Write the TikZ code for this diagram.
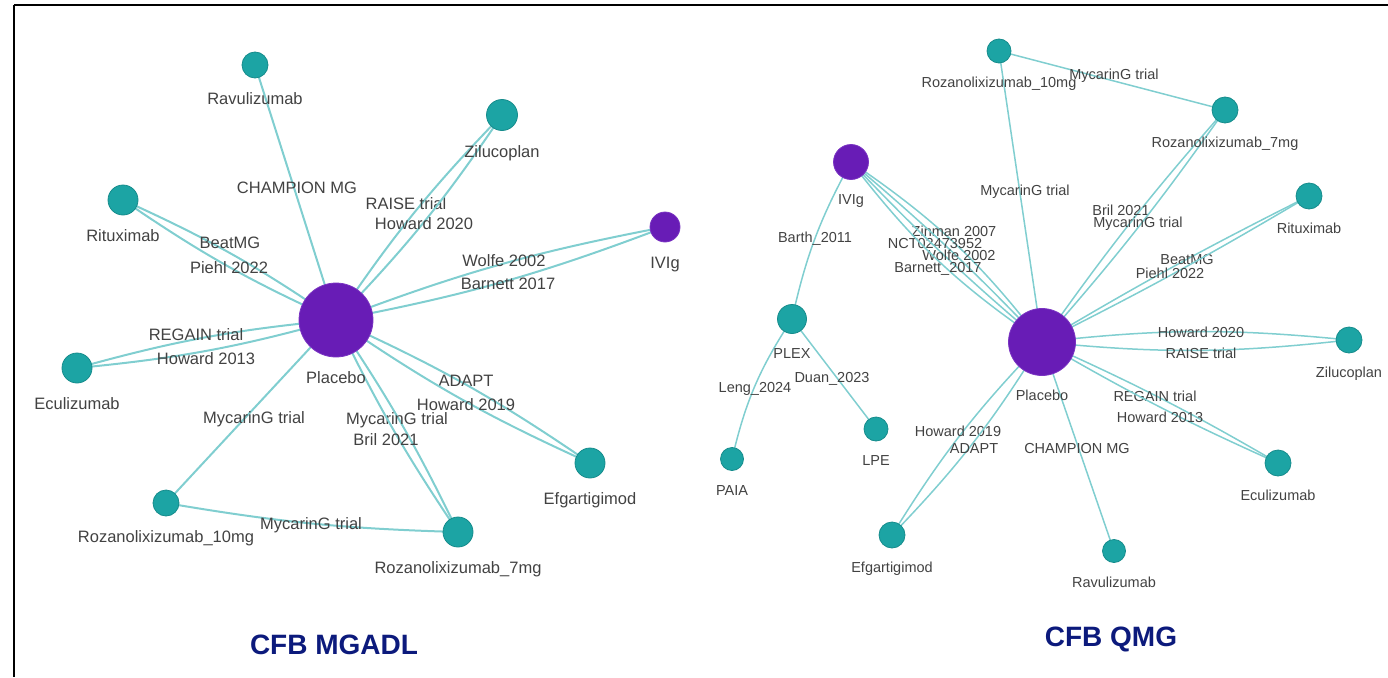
\documentclass[tikz,border=0pt]{standalone}
\usepackage{fontspec}
\setmainfont{Liberation Sans}
\usetikzlibrary{backgrounds}

\definecolor{trtfill}{RGB}{28,164,164}
\definecolor{trtdraw}{RGB}{22,140,140}
\definecolor{pbofill}{RGB}{104,28,182}
\definecolor{pbodraw}{RGB}{122,52,194}
\definecolor{linkc}{RGB}{128,206,208}
\definecolor{txtc}{RGB}{66,66,66}
\definecolor{navy}{RGB}{12,26,124}

\begin{document}
\begin{tikzpicture}[
  x=1pt, y=-1pt,
  tx/.style={circle, draw=trtdraw, fill=trtfill, line width=0.8pt, inner sep=0pt, minimum size=#1},
  pbo/.style={circle, draw=pbodraw, fill=pbofill, line width=0.8pt, inner sep=0pt, minimum size=#1},
  title/.style={font=\fontsize{28}{30}\selectfont\bfseries, text=navy},
  frame/.style={line width=2.4pt, black}
]
\useasboundingbox (0,0) rectangle (1388,677);
\draw[frame] (14,5) -- (1388,5);
\draw[frame] (14,5) -- (14,677);

\begin{scope}[
  label distance=14pt,
  every label/.style={font=\fontsize{16.5}{18}\selectfont, text=txtc, inner sep=0pt, text height=12pt, text depth=0pt},
  elab/.style={font=\fontsize{16.5}{18}\selectfont, text=txtc, inner sep=0pt, text height=12pt, text depth=0pt},
  link/.style={draw=linkc, line width=2pt}
]
\node[pbo=74pt, label=below:Placebo] (pA) at (336,320) {};
\node[tx=26pt, label=below:Ravulizumab] (ravA) at (255,65) {};
\node[tx=31pt, label=below:Zilucoplan] (zilA) at (502,115) {};
\node[tx=30pt, label=below:Rituximab] (ritA) at (123,200) {};
\node[pbo=30pt, label=below:IVIg] (ivigA) at (665,227) {};
\node[tx=30pt, label=below:Eculizumab] (eculA) at (77,368) {};
\node[tx=26pt, label=below:Rozanolixizumab\_10mg] (roztenA) at (166,503) {};
\node[tx=30pt, label=below:Rozanolixizumab\_7mg] (rozsevA) at (458,532) {};
\node[tx=30pt, label=below:Efgartigimod] (efgA) at (590,463) {};

\begin{scope}[on background layer]
\draw[link] (pA.center) -- (ravA.center) node[elab] at (297,187) {CHAMPION MG};
\draw[link] (pA.center) to[bend left=5] (zilA.center) node[elab] at (406,203) {RAISE trial};
\draw[link] (pA.center) to[bend right=5] (zilA.center) node[elab] at (424,223) {Howard 2020};
\draw[link] (pA.center) to[bend right=5] (ritA.center) node[elab] at (230,242) {BeatMG};
\draw[link] (pA.center) to[bend left=5] (ritA.center) node[elab] at (229,267) {Piehl 2022};
\draw[link] (pA.center) to[bend left=5] (ivigA.center) node[elab] at (504,260) {Wolfe 2002};
\draw[link] (pA.center) to[bend right=5] (ivigA.center) node[elab] at (508,283) {Barnett 2017};
\draw[link] (pA.center) to[bend right=5] (eculA.center) node[elab] at (196,334) {REGAIN trial};
\draw[link] (pA.center) to[bend left=5] (eculA.center) node[elab] at (206,358) {Howard 2013};
\draw[link] (pA.center) -- (roztenA.center) node[elab] at (254,417) {MycarinG trial};
\draw[link] (pA.center) to[bend left=4] (rozsevA.center) node[elab] at (397,418) {MycarinG trial};
\draw[link] (pA.center) to[bend right=4] (rozsevA.center) node[elab] at (386,439) {Bril 2021};
\draw[link] (pA.center) to[bend left=5] (efgA.center) node[elab] at (466,380) {ADAPT};
\draw[link] (pA.center) to[bend right=5] (efgA.center) node[elab] at (466,404) {Howard 2019};
\draw[link] (roztenA.center) to[bend right=4] (rozsevA.center) node[elab] at (311,523) {MycarinG trial};
\end{scope}
\end{scope}

\begin{scope}[
  label distance=13.5pt,
  every label/.style={font=\fontsize{14.5}{16}\selectfont, text=txtc, inner sep=0pt, text height=10.5pt, text depth=0pt},
  elab/.style={font=\fontsize{14.5}{16}\selectfont, text=txtc, inner sep=0pt, text height=10.5pt, text depth=0pt},
  link/.style={draw=linkc, line width=1.5pt}
]
\node[pbo=67pt, label=below:Placebo] (pB) at (1042,342) {};
\node[tx=24pt, label=below:Rozanolixizumab\_10mg] (roztenB) at (999,51) {};
\node[tx=26pt, label=below:Rozanolixizumab\_7mg] (rozsevB) at (1225,110) {};
\node[pbo=35pt, label=below:IVIg] (ivigB) at (851,162) {};
\node[tx=26pt, label=below:Rituximab] (ritB) at (1309,196) {};
\node[tx=29pt, label=below:PLEX] (plex) at (792,319) {};
\node[tx=26pt, label=below:Zilucoplan] (zilB) at (1349,340) {};
\node[tx=24pt, label=below:LPE] (lpe) at (876,429) {};
\node[tx=23pt, label=below:PAIA] (paia) at (732,459) {};
\node[tx=26pt, label=below:Efgartigimod] (efgB) at (892,535) {};
\node[tx=23pt, label=below:Ravulizumab] (ravB) at (1114,551) {};
\node[tx=26pt, label=below:Eculizumab] (eculB) at (1278,463) {};

\begin{scope}[on background layer]
\draw[link] (roztenB.center) -- (rozsevB.center) node[elab] at (1114,74) {MycarinG trial};
\draw[link] (pB.center) -- (roztenB.center) node[elab] at (1025,190) {MycarinG trial};
\draw[link] (pB.center) to[bend left=3] (rozsevB.center) node[elab] at (1121,210) {Bril 2021};
\draw[link] (pB.center) to[bend right=3] (rozsevB.center) node[elab] at (1138,222) {MycarinG trial};
\draw[link] (pB.center) to[bend left=2] (ritB.center) node[elab] at (1187,259) {BeatMG};
\draw[link] (pB.center) to[bend right=2] (ritB.center) node[elab] at (1170,273) {Piehl 2022};
\draw[link] (pB.center) to[bend right=9] (ivigB.center) node[elab] at (954,231) {Zinman 2007};
\draw[link] (pB.center) to[bend right=3] (ivigB.center) node[elab] at (935,243) {NCT02473952};
\draw[link] (pB.center) to[bend left=3] (ivigB.center) node[elab] at (959,255) {Wolfe 2002};
\draw[link] (pB.center) to[bend left=9] (ivigB.center) node[elab] at (938,267) {Barnett\_2017};
\draw[link] (ivigB.center) to[bend right=8] (plex.center) node[elab] at (815,237) {Barth\_2011};
\draw[link] (plex.center) to[bend right=10] (paia.center) node[elab] at (755,387) {Leng\_2024};
\draw[link] (plex.center) -- (lpe.center) node[elab] at (832,377) {Duan\_2023};
\draw[link] (pB.center) to[bend left=6] (zilB.center) node[elab] at (1201,332) {Howard 2020};
\draw[link] (pB.center) to[bend right=6] (zilB.center) node[elab] at (1201,353) {RAISE trial};
\draw[link] (pB.center) to[bend left=3] (eculB.center) node[elab] at (1155,396) {REGAIN trial};
\draw[link] (pB.center) to[bend right=3] (eculB.center) node[elab] at (1160,417) {Howard 2013};
\draw[link] (pB.center) to[bend right=6] (efgB.center) node[elab] at (958,431) {Howard 2019};
\draw[link] (pB.center) to[bend left=6] (efgB.center) node[elab] at (974,448) {ADAPT};
\draw[link] (pB.center) -- (ravB.center) node[elab] at (1077,448) {CHAMPION MG};
\end{scope}
\end{scope}

\node[title] (ttlA) at (334,645) {CFB MGADL};
\node[title] (ttlB) at (1111,639) {CFB QMG};
\end{tikzpicture}
\end{document}
